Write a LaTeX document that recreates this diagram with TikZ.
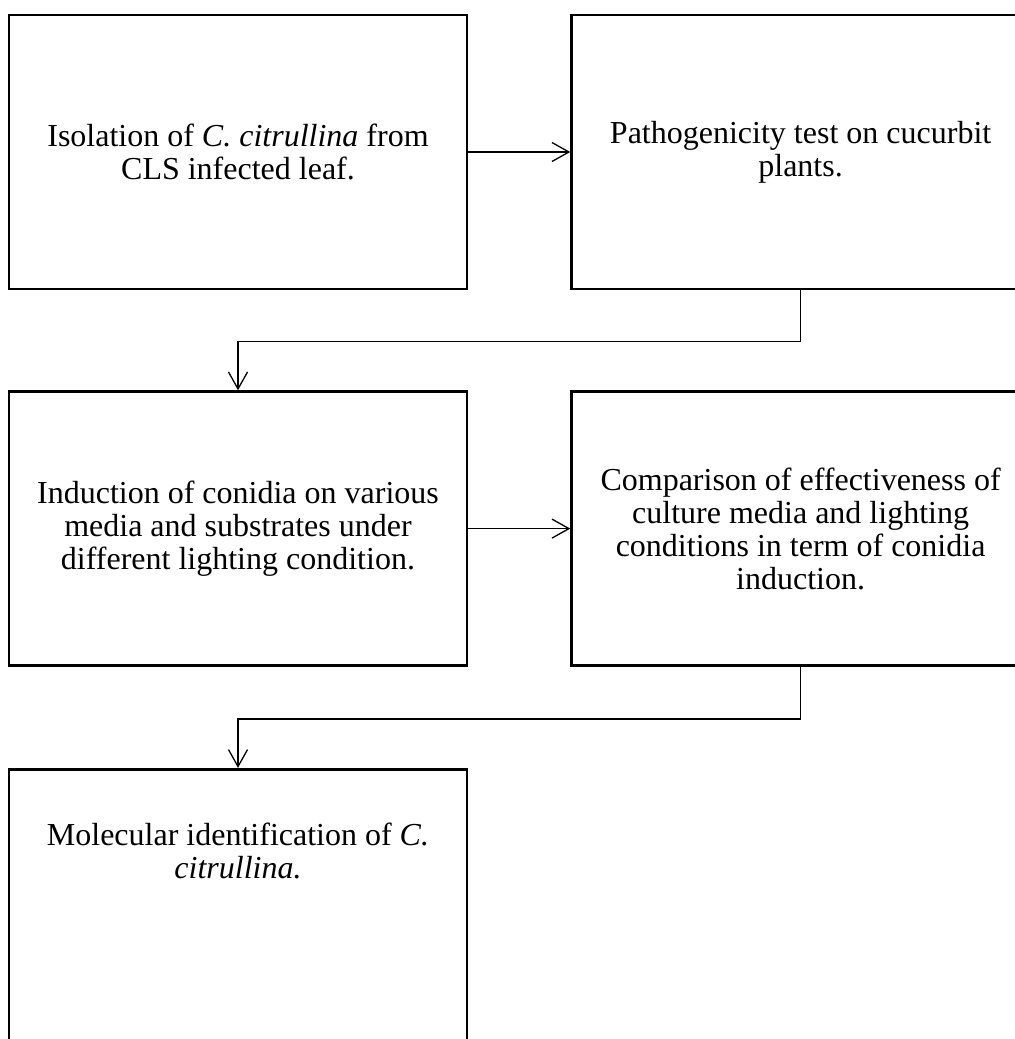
\documentclass[tikz,border=0pt]{standalone}
\usepackage{fontspec}
\setmainfont{Liberation Serif}
\usepackage{tikz}
\usetikzlibrary{arrows.meta}
\usetikzlibrary{calc}
\usetikzlibrary{positioning}

\begin{document}
\begin{tikzpicture}[->,>={Straight Barb[length=8.5pt,width=9.5pt]},x=0.5pt,y=-0.5pt,line width=0.65pt]
 \tikzstyle{box}=[draw, rectangle, line width=1.3pt, minimum width=229pt, minimum height=137pt, inner sep=0pt, align=center, font=\fontsize{16pt}{16.5pt}\selectfont]
 \useasboundingbox (0,0) rectangle (1014,1039);
 \node[box]  (iso) at (238,152)            {Isolation of \textit{C. citrullina} from\\CLS infected leaf.};
 \node[box]  (path) [right=51pt of iso]    {Pathogenicity test on cucurbit\\plants.};
 \node[box]  (ind)  [below=50pt of iso]    {Induction of conidia on various\\media and substrates under\\different lighting condition.};
 \node[box]  (comp) [below=50pt of path]   {Comparison of effectiveness of\\culture media and lighting\\conditions in term of conidia\\induction.};
 \node[box]  (mol)  [below=50.5pt of ind]  {};
 \node[align=center, font=\fontsize{16pt}{16.5pt}\selectfont] (moltxt) [below=24pt of mol.north] {Molecular identification of \textit{C.}\\\textit{citrullina.}};
 \path (iso) edge (path)
       (ind) edge (comp);
 \draw (path.south) -- ++(0,51) -| (ind.north);
 \draw (comp.south) -- ++(0,52) -| (mol.north);
\end{tikzpicture}
\end{document}
